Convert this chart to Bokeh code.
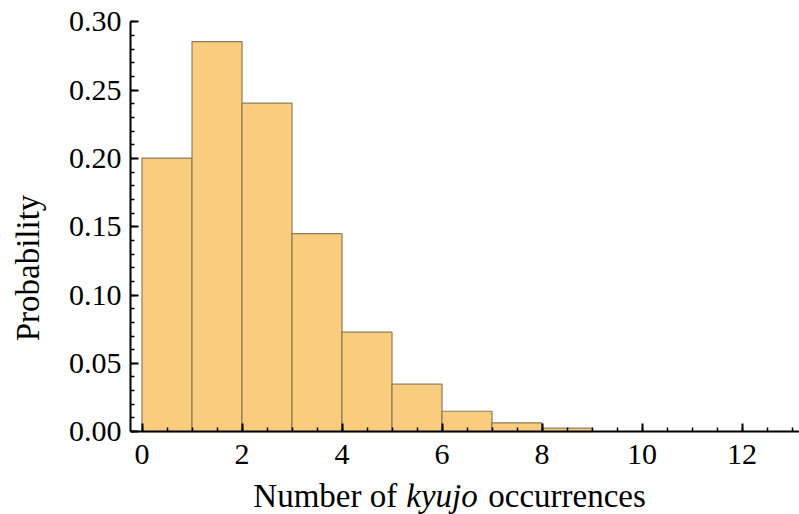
from bokeh.plotting import figure
from bokeh.models import Range1d, SingleIntervalTicker, NumeralTickFormatter, Label
from bokeh.embed import file_html
from bokeh.resources import INLINE

# Data
bin_edges = [0, 1, 2, 3, 4, 5, 6, 7, 8, 9]
probabilities = [0.2003, 0.2856, 0.2405, 0.1449, 0.0729, 0.0347, 0.0149, 0.0064, 0.0025]
y_label = "Probability"
x_label_parts = ["Number of", "kyujo", "occurrences"]

FONT = "Liberation Serif"

X0, X1 = -0.23, 13.15
Y0, Y1 = -0.0607, 0.3003

p = figure(width=799, height=514, output_backend="svg", toolbar_location=None,
           x_range=Range1d(X0, X1), y_range=Range1d(Y0, Y1),
           min_border_left=130, min_border_right=0, min_border_top=21, min_border_bottom=0)
p.outline_line_color = None
p.xgrid.grid_line_color = None
p.ygrid.grid_line_color = None
p.background_fill_color = "white"
p.border_fill_color = "white"

p.quad(left=bin_edges[:-1], right=bin_edges[1:], bottom=0, top=probabilities,
       fill_color="#F9CC7E", line_color="#8E7D58", line_width=1.2)

for ax in (p.xaxis[0], p.yaxis[0]):
    ax.axis_line_color = "black"
    ax.axis_line_width = 2
    ax.major_tick_line_color = "black"
    ax.major_tick_line_width = 2
    ax.minor_tick_line_color = "black"
    ax.minor_tick_line_width = 1.5
    ax.major_tick_out = 0
    ax.major_tick_in = 8
    ax.minor_tick_out = 0
    ax.minor_tick_in = 4
    ax.major_label_text_font = FONT
    ax.major_label_text_font_size = "30px"
    ax.major_label_text_color = "black"

p.xaxis.fixed_location = 0
p.xaxis.bounds = (X0, X1)
p.yaxis.bounds = (0, Y1)

p.xaxis.ticker = SingleIntervalTicker(interval=2, num_minor_ticks=4)
p.yaxis.ticker = SingleIntervalTicker(interval=0.05, num_minor_ticks=5)
p.yaxis.formatter = NumeralTickFormatter(format="0.00")
p.xaxis.major_label_standoff = 13
p.yaxis.major_label_standoff = 9

p.yaxis.axis_label = y_label
p.yaxis.axis_label_text_font = FONT
p.yaxis.axis_label_text_font_size = "33px"
p.yaxis.axis_label_text_font_style = "normal"
p.yaxis.axis_label_text_color = "black"
p.yaxis.axis_label_standoff = 20

# x-axis label (with italic word), placed in data coords below the axis
px_per_x = 50.0
x0_px = 141.7
base_y = -0.0475
starts_px = [253, 406, 488]
styles = ["normal", "italic", "normal"]
for txt, sx, st in zip(x_label_parts, starts_px, styles):
    p.add_layout(Label(x=(sx - x0_px) / px_per_x, y=base_y, text=txt,
                       text_font=FONT, text_font_size="33px", text_font_style=st,
                       text_color="black", text_align="left", text_baseline="alphabetic"))

html = file_html(p, INLINE)
open("out.html", "w").write(html)
